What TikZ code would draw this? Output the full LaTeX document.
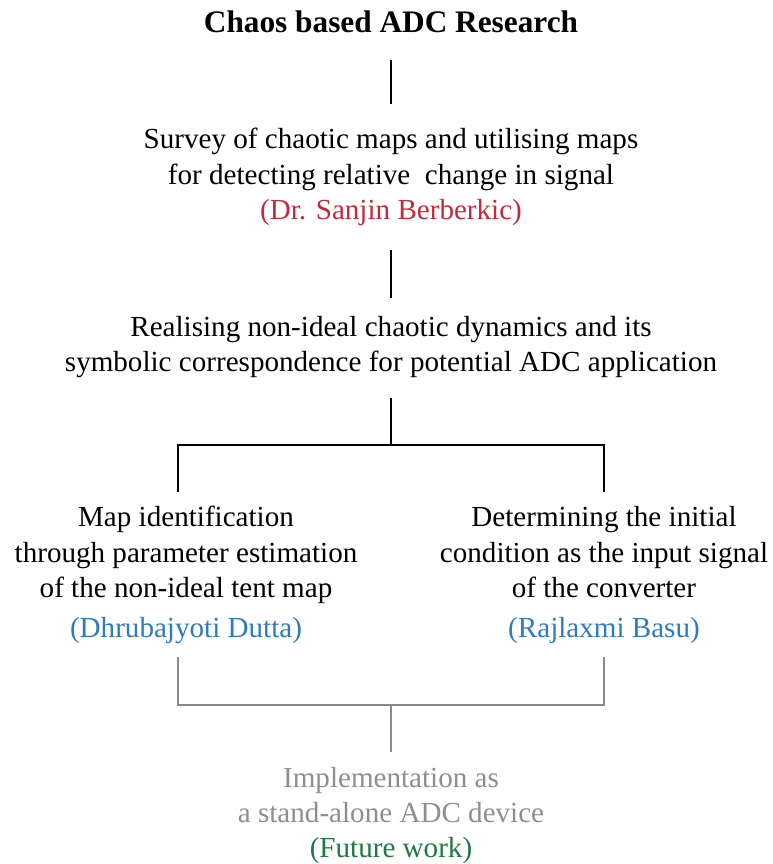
\documentclass[tikz,border=0pt]{standalone}
\usepackage{fontspec}
\setmainfont{Liberation Serif}
\definecolor{authred}{HTML}{C8283A}
\definecolor{authblue}{HTML}{2E7BC0}
\definecolor{futgray}{HTML}{8E8E8E}
\definecolor{futgreen}{HTML}{1F7A40}
\definecolor{linkgray}{HTML}{8A8A8A}
\begin{document}
\begin{tikzpicture}[x=1pt,y=-1pt,
  txt/.style={align=center,inner sep=0pt,font=\fontsize{29.1}{35.5}\selectfont},
  link/.style={line width=2pt,black},
  futlink/.style={line width=2.2pt,linkgray}]
\useasboundingbox (0,0) rectangle (772,864);

\node[txt,font=\fontsize{31.3}{36}\selectfont\bfseries] (title) at (391,22) {Chaos based ADC Research};
\node[txt] (survey) at (391,177) {Survey of chaotic maps and utilising maps\\for detecting relative\ \ change in signal\\\textcolor{authred}{(Dr. Sanjin Berberkic)}};
\node[txt] (real) at (391,347) {Realising non-ideal chaotic dynamics and its\\symbolic correspondence for potential ADC application};
\node[txt] (mapid) at (186,575) {Map identification\\through parameter estimation\\of the non-ideal tent map\\[4pt]\textcolor{authblue}{(Dhrubajyoti Dutta)}};
\node[txt] (init) at (604,575) {Determining the initial\\condition as the input signal\\of the converter\\[4pt]\textcolor{authblue}{(Rajlaxmi Basu)}};
\node[txt,text=futgray,font=\fontsize{29.1}{35}\selectfont] (impl) at (391,815) {Implementation as\\a stand-alone ADC device\\\textcolor{futgreen}{(Future work)}};

% connectors
\coordinate (t1) at (391,60);  \coordinate (s1) at (391,104);
\coordinate (t2) at (391,250); \coordinate (s2) at (391,298);
\coordinate (t3) at (391,398); \coordinate (j3) at (391,445);
\coordinate (jl) at (178,445); \coordinate (jr) at (604,445);
\coordinate (el) at (178,492); \coordinate (er) at (604,492);
\coordinate (bl) at (178,657); \coordinate (br) at (604,657);
\coordinate (kl) at (178,705); \coordinate (kr) at (604,705);
\coordinate (k)  at (391,705); \coordinate (ke) at (391,752);

\draw[link] (t1) -- (s1);
\draw[link] (t2) -- (s2);
\draw[link] (t3) -- (j3);
\draw[link] (el) -- (jl) -- (jr) -- (er);
\draw[futlink] (bl) -- (kl) -- (kr) -- (br);
\draw[futlink] (k) -- (ke);
\end{tikzpicture}
\end{document}
